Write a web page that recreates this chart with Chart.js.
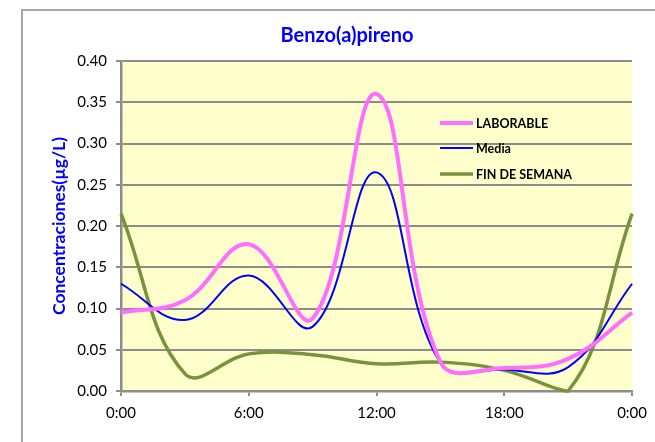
<!DOCTYPE html>
<html>
<head>
<meta charset="utf-8">
<script src="https://cdn.jsdelivr.net/npm/chart.js@4"></script>
<style>
  html, body { margin: 0; padding: 0; background: #fff; }
  #wrap { position: relative; width: 655px; height: 442px; }
</style>
</head>
<body>
<div id="wrap"><canvas id="c" width="655" height="442"></canvas></div>
<script>
// ---- data ----
const hours = [0, 3, 6, 9, 12, 15, 18, 21, 24];
const laborable = [0.095, 0.110, 0.178, 0.088, 0.360, 0.035, 0.028, 0.039, 0.095];
const media = [0.130, 0.086, 0.140, 0.078, 0.265, 0.034, 0.026, 0.029, 0.130];
const finDeSemana = [0.215, 0.021, 0.045, 0.044, 0.033, 0.035, 0.025, 0.000, 0.215];
const seriesNames = ['LABORABLE', 'Media', 'FIN DE SEMANA'];
const xTickHours = [0, 6, 12, 18, 24];
const yTicks = [0, 0.05, 0.10, 0.15, 0.20, 0.25, 0.30, 0.35, 0.40];
const titleText = 'Benzo(a)pireno';
const yTitleText = 'Concentraciones(µg/L)';

const colors = ['#FF6EFF', '#0000FF', '#77933C'];
const widths = [4, 2, 3.5];
const FONT = 'Lato, "Open Sans", sans-serif';

function pts(arr) { return hours.map((h, i) => ({ x: h, y: arr[i] })); }

const decor = {
  id: 'decor',
  beforeDraw(chart) {
    const { ctx, chartArea: a } = chart;
    ctx.save();
    ctx.fillStyle = '#FFFFCC';
    ctx.fillRect(a.left, a.top, a.right - a.left, a.bottom - a.top);
    // outer chart border
    ctx.strokeStyle = '#A6A6A6';
    ctx.lineWidth = 2;
    ctx.strokeRect(22, 10, 700, 500);
    // title
    ctx.fillStyle = '#0000FF';
    ctx.font = 'bold 20px ' + FONT;
    ctx.textAlign = 'center';
    ctx.textBaseline = 'middle';
    ctx.fillText(titleText, 347, 36);
    ctx.restore();
  },
  afterDatasetsDraw(chart) {
    const { ctx } = chart;
    ctx.save();
    const ys = [123, 148, 174];
    chart.data.datasets.forEach((ds, i) => {
      ctx.strokeStyle = ds.borderColor;
      ctx.lineWidth = ds.borderWidth;
      ctx.beginPath();
      ctx.moveTo(440, ys[i]);
      ctx.lineTo(473, ys[i]);
      ctx.stroke();
      ctx.fillStyle = '#000';
      ctx.font = 'bold 12.5px ' + FONT;
      ctx.textAlign = 'left';
      ctx.textBaseline = 'middle';
      ctx.fillText(ds.label, 476, ys[i] + 0.5);
    });
    ctx.restore();
  }
};

new Chart(document.getElementById('c'), {
  type: 'line',
  data: {
    datasets: [laborable, media, finDeSemana].map((arr, i) => ({
      label: seriesNames[i],
      data: pts(arr),
      borderColor: colors[i],
      backgroundColor: colors[i],
      borderWidth: widths[i],
      pointRadius: 0,
      tension: 0.4,
      fill: false,
      clip: 6
    }))
  },
  options: {
    responsive: false,
    animation: false,
    events: [],
    layout: { padding: { top: 61, left: 0, right: 22, bottom: 0 } },
    plugins: { legend: { display: false }, title: { display: false }, tooltip: { enabled: false } },
    scales: {
      x: {
        type: 'linear', min: 0, max: 24,
        afterBuildTicks(scale) { scale.ticks = xTickHours.map(v => ({ value: v })); },
        afterFit(scale) { scale.height = 51; },
        ticks: {
          callback: v => (v % 24) + ':00',
          font: { family: FONT, size: 15 }, color: '#000', padding: 8, maxRotation: 0
        },
        grid: { drawOnChartArea: false, drawTicks: true, tickLength: 5, color: '#8C8C8C', lineWidth: 2 },
        border: { color: '#8C8C8C', width: 2.5 }
      },
      y: {
        min: 0, max: 0.4,
        afterBuildTicks(scale) { scale.ticks = yTicks.map(v => ({ value: v })); },
        afterFit(scale) { scale.width = 121; },
        ticks: {
          callback: v => v.toFixed(2),
          font: { family: FONT, size: 15 }, color: '#000', padding: 9
        },
        grid: { color: '#8C8C8C', lineWidth: 2, tickLength: 5, drawTicks: true },
        border: { color: '#8C8C8C', width: 2.5 },
        title: {
          display: true, text: yTitleText, color: '#0000FF',
          font: { family: FONT, size: 17.5, weight: 'bold' },
          padding: { top: 49, bottom: 0 }
        }
      }
    }
  },
  plugins: [decor]
});
</script>
</body>
</html>
